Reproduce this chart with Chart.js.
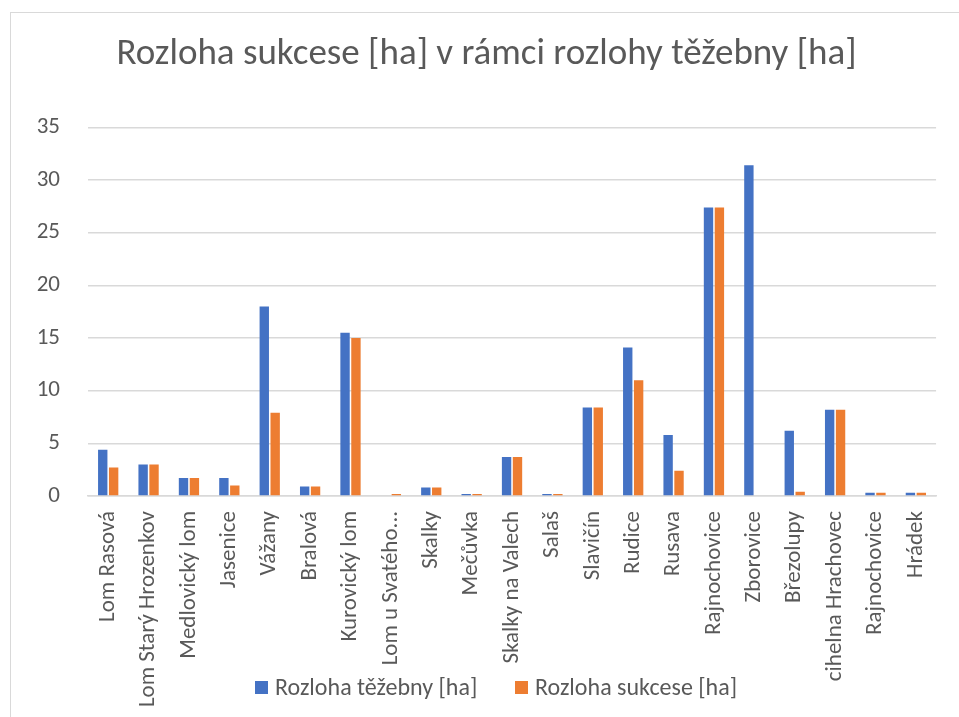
<!DOCTYPE html>
<html>
<head>
<meta charset="utf-8">
<script src="https://cdn.jsdelivr.net/npm/chart.js@4/dist/chart.umd.min.js"></script>
<style>
	html, body { margin: 0; padding: 0; background: #fff; overflow: hidden; }
	#wrap { position: relative; width: 959px; height: 717px; }
	#frame { position: absolute; left: 10px; top: 12px; width: 1000px; height: 800px; border: 1px solid #d9d9d9; }
	#chart { position: absolute; left: 0; top: 0; }
	#legend { position: absolute; top: 672px; left: 0; width: 959px; font-family: Carlito, Calibri, Lato, sans-serif; font-size: 24px; line-height: 30px; color: #595959; }
	.item { position: absolute; white-space: nowrap; }
	.box { display: inline-block; width: 13px; height: 13px; margin-right: 7px; vertical-align: 1px; }
</style>
</head>
<body>
<div id="wrap">
	<div id="frame"></div>
	<canvas id="chart" width="959" height="717"></canvas>
	<div id="legend"></div>
</div>
<script>
const FONT = "Carlito, Calibri, Lato, sans-serif";
const GREY = "#595959";

// Data
const categories = [
	"Lom Rasová", "Lom Starý Hrozenkov", "Medlovický lom", "Jasenice", "Vážany",
	"Bralová", "Kurovický lom", "Lom u Svatého...", "Skalky", "Mečůvka",
	"Skalky na Valech", "Salaš", "Slavičín", "Rudice", "Rusava",
	"Rajnochovice", "Zborovice", "Březolupy", "cihelna Hrachovec", "Rajnochovice", "Hrádek",
];
const tezebna = [4.4, 3.0, 1.7, 1.7, 18.0, 0.9, 15.5, 0, 0.8, 0.2, 3.7, 0.2, 8.4, 14.1, 5.8, 27.4, 31.4, 6.2, 8.2, 0.3, 0.3];
const sukcese = [2.7, 3.0, 1.7, 1.0, 7.9, 0.9, 15.0, 0.2, 0.8, 0.2, 3.7, 0.2, 8.4, 11.0, 2.4, 27.4, 0, 0.4, 8.2, 0.3, 0.3];
const yTicks = [0, 5, 10, 15, 20, 25, 30, 35];

const seriesNames = ["Rozloha těžebny [ha]", "Rozloha sukcese [ha]"];
const seriesColors = ["#4472C4", "#ED7D31"];

// Legend drawn as html so it can sit over the axis labels like in the original
function buildLegend() {
	const legend = document.getElementById("legend");
	const lefts = [255, 515];
	seriesNames.forEach((name, i) => {
		const item = document.createElement("div");
		item.className = "item";
		item.style.left = lefts[i] + "px";
		item.innerHTML = `<span class="box" style="background:${seriesColors[i]}"></span>${name}`;
		legend.appendChild(item);
	});
}

function createChart(ctx) {
	return new Chart(ctx, {
		type: "bar",
		data: {
			labels: categories,
			datasets: [
				{ label: seriesNames[0], data: tezebna, backgroundColor: seriesColors[0], categoryPercentage: 0.54, barPercentage: 0.86 },
				{ label: seriesNames[1], data: sukcese, backgroundColor: seriesColors[1], categoryPercentage: 0.54, barPercentage: 0.86 },
			],
		},
		options: {
			responsive: false,
			animation: false,
			layout: { padding: { left: 36, right: 22, top: 0, bottom: 0 } },
			plugins: {
				legend: { display: false },
				tooltip: { enabled: false },
				title: {
					display: true,
					text: "Rozloha sukcese [ha] v rámci rozlohy těžebny [ha]",
					color: GREY,
					font: { family: FONT, size: 37, weight: "normal" },
					padding: { top: 33, bottom: 50 },
				},
			},
			scales: {
				x: {
					grid: { display: false, drawTicks: false },
					border: { display: true, color: "#d9d9d9", width: 1.5 },
					ticks: {
						color: GREY,
						font: { family: FONT, size: 23 },
						autoSkip: false,
						maxRotation: 90,
						minRotation: 90,
						padding: 15,
					},
					afterFit: (scale) => { scale.height = 221; },
				},
				y: {
					min: 0,
					max: 35,
					afterBuildTicks: (scale) => { scale.ticks = yTicks.map((v) => ({ value: v })); },
					afterFit: (scale) => { scale.width = 52; },
					grid: { color: "#d9d9d9", lineWidth: 1.5, drawTicks: false },
					border: { display: false },
					ticks: {
						color: GREY,
						font: { family: FONT, size: 23 },
						padding: 28,
					},
				},
			},
		},
	});
}

buildLegend();
createChart(document.getElementById("chart"));
</script>
</body>
</html>
